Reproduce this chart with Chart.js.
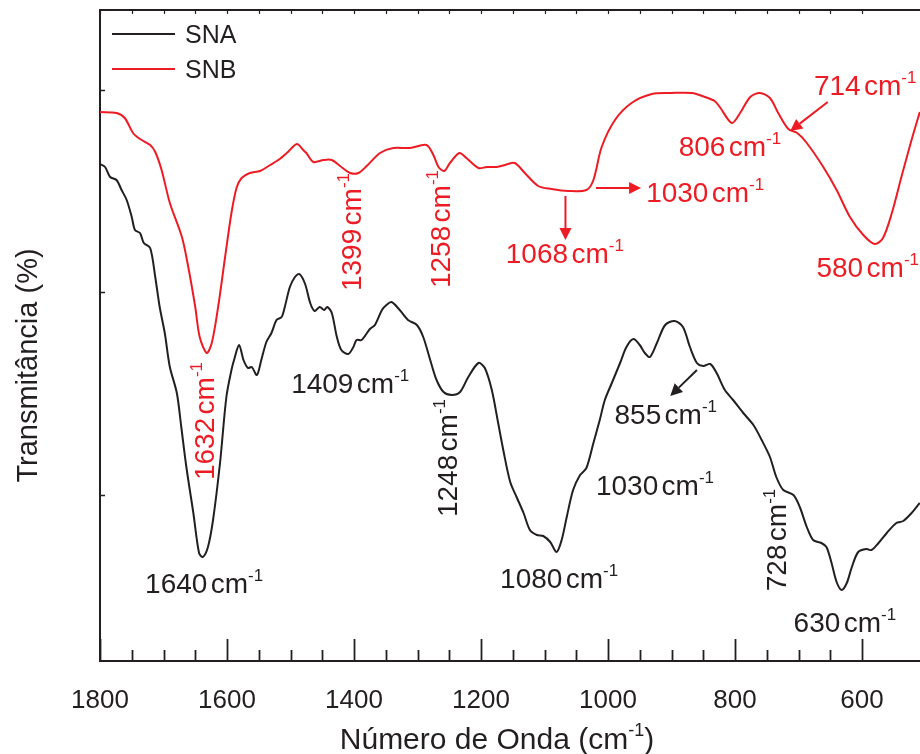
<!DOCTYPE html>
<html>
<head>
<meta charset="utf-8">
<script src="https://cdn.jsdelivr.net/npm/chart.js@4.4.0/dist/chart.umd.min.js"></script>
<style>
  html, body { margin: 0; padding: 0; background: #fff; }
</style>
</head>
<body>
<canvas id="ftir" width="920" height="754"></canvas>
<script>
// espectros FTIR das amostras SNA e SNB
const snaWavenumber = [1800, 1792, 1784, 1774, 1766, 1758, 1750, 1745, 1737, 1731,
  1721, 1713, 1706, 1698, 1690, 1679, 1672, 1664, 1653, 1644,
  1638, 1630, 1622, 1611, 1601, 1593, 1588, 1581, 1574, 1567,
  1561, 1553, 1546, 1538, 1530, 1522, 1514, 1509, 1501, 1493,
  1486, 1477, 1469, 1462, 1454, 1447, 1442, 1435, 1427, 1420,
  1409, 1401, 1396, 1388, 1375, 1367, 1356, 1349, 1341, 1328,
  1315, 1301, 1291, 1280, 1270, 1259, 1246, 1233, 1220, 1204,
  1194, 1183, 1173, 1164, 1154, 1144, 1133, 1123, 1112, 1102,
  1091, 1081, 1073, 1065, 1055, 1044, 1034, 1023, 1013, 1005,
  994, 981, 971, 960, 950, 942, 934, 923, 910, 895,
  882, 871, 860, 850, 839, 829, 816, 803, 787, 771,
  758, 745, 735, 724, 708, 698, 687, 677, 664, 656,
  648, 640, 632, 624, 616, 606, 593, 585, 574, 561,
  546, 535, 522, 509];
const snaT = [53.1, 52.8, 51.8, 51.5, 50.5, 49.5, 47.8, 46.5, 46.2, 45.2,
  44.7, 41.8, 38.8, 36.2, 32.8, 30.2, 26.8, 22.8, 18.2, 14.2,
  13.8, 14.8, 17.5, 23.2, 29.8, 32.5, 33.7, 35.0, 33.5, 32.7,
  32.8, 32.0, 33.5, 35.3, 36.2, 37.5, 37.8, 38.8, 40.8, 41.8,
  42.1, 41.1, 39.2, 38.4, 38.8, 38.5, 38.8, 38.2, 35.8, 34.5,
  34.1, 34.8, 35.5, 35.5, 36.6, 37.0, 38.5, 39.0, 39.3, 38.5,
  37.5, 37.0, 35.8, 33.5, 31.5, 30.3, 30.0, 30.3, 31.8, 33.2,
  32.7, 30.5, 27.2, 24.2, 21.3, 19.8, 18.2, 16.5, 16.0, 15.9,
  15.3, 14.3, 15.5, 17.8, 20.5, 22.0, 22.7, 25.2, 27.5, 29.5,
  31.2, 33.2, 34.8, 35.6, 35.0, 34.2, 33.8, 35.2, 37.0, 37.4,
  36.8, 34.8, 33.2, 32.9, 33.1, 32.2, 30.5, 29.5, 28.2, 27.0,
  25.5, 23.8, 21.8, 20.5, 20.0, 18.8, 16.8, 15.5, 15.2, 14.8,
  13.2, 11.3, 10.5, 11.2, 12.8, 14.3, 14.6, 14.5, 15.2, 16.2,
  17.2, 17.4, 18.2, 19.2];

const snbWavenumber = [1800, 1774, 1761, 1748, 1737, 1721, 1713, 1703, 1690, 1671,
  1661, 1650, 1643, 1632, 1624, 1614, 1603, 1593, 1585, 1577,
  1564, 1548, 1532, 1517, 1504, 1490, 1480, 1475, 1464, 1448,
  1435, 1422, 1406, 1393, 1380, 1359, 1338, 1312, 1286, 1275,
  1267, 1258, 1249, 1234, 1223, 1204, 1191, 1175, 1162, 1147,
  1131, 1110, 1089, 1063, 1034, 1023, 1010, 989, 963, 931,
  900, 868, 847, 832, 824, 805, 792, 776, 761, 745,
  732, 716, 702, 687, 661, 640, 619, 598, 580, 567,
  553, 538, 522, 509];
const snbT = [58.3, 58.2, 57.7, 56.2, 55.6, 55.0, 54.3, 52.5, 49.2, 45.8,
  42.8, 38.8, 35.8, 34.2, 35.2, 38.8, 43.8, 48.2, 50.7, 51.7,
  52.2, 52.4, 53.0, 53.6, 54.3, 55.1, 54.5, 54.2, 53.3, 53.5,
  53.5, 52.9, 52.2, 52.2, 52.9, 54.2, 54.7, 54.7, 55.0, 54.0,
  52.8, 52.4, 53.2, 54.2, 53.7, 52.7, 52.8, 52.8, 53.0, 53.2,
  52.2, 50.9, 50.6, 50.4, 50.5, 51.5, 54.8, 57.5, 59.2, 60.1,
  60.2, 60.2, 59.8, 59.4, 58.8, 57.2, 58.2, 59.8, 60.2, 59.7,
  58.2, 56.6, 56.2, 55.2, 52.8, 50.5, 47.8, 46.0, 45.1, 45.7,
  48.2, 51.8, 55.5, 58.3];

// marcas do eixo y (sem rótulo)
const transTicks = [20, 40.25, 60.5];

// bandas marcadas: número, posição do texto (cm-1, T), cor, vertical?
const bandLabels = [
  { num: '1640', wn: 1636, t: 11.2, color: 'k' },
  { num: '1409', wn: 1406, t: 31.2, color: 'k' },
  { num: '1248', wn: 1254, t: 23.7, color: 'k', vertical: true },
  { num: '1080', wn: 1077, t: 11.7, color: 'k' },
  { num: '1030', wn: 926, t: 21.0, color: 'k' },
  { num: '855', wn: 909, t: 28.1, color: 'k' },
  { num: '728', wn: 735, t: 15.5, color: 'k', vertical: true },
  { num: '630', wn: 627, t: 7.3, color: 'k' },
  { num: '1632', wn: 1636, t: 27.4, color: 'r', vertical: true },
  { num: '1399', wn: 1405, t: 46.3, color: 'r', vertical: true },
  { num: '1258', wn: 1265, t: 46.6, color: 'r', vertical: true },
  { num: '1068', wn: 1068, t: 44.2, color: 'r' },
  { num: '1030', wn: 847, t: 50.3, color: 'r' },
  { num: '806', wn: 808, t: 54.9, color: 'r' },
  { num: '714', wn: 595, t: 61.0, color: 'r' },
  { num: '580', wn: 591, t: 42.8, color: 'r' }
];

// setas: de (cm-1, T) para (cm-1, T)
const bandArrows = [
  { from: [1067, 49.9], to: [1067, 45.5], color: 'r' },
  { from: [1019, 50.7], to: [948, 50.7], color: 'r' },
  { from: [654, 59.3], to: [713, 56.4], color: 'r' },
  { from: [860, 32.5], to: [902, 29.9], color: 'k' }
];

const FONT = '"Liberation Sans", Arial, Helvetica, sans-serif';
const INK = '#231f20';
const RED = '#ed1c24';
const colorOf = c => (c === 'r' ? RED : INK);

// texto com expoente: partes [{t, sup, gap}]
function drawRich(ctx, parts, cx, cy, size, color, vertical) {
  ctx.save();
  ctx.translate(cx, cy);
  if (vertical) ctx.rotate(-Math.PI / 2);
  ctx.fillStyle = color;
  ctx.textAlign = 'left';
  ctx.textBaseline = 'alphabetic';
  const big = size + 'px ' + FONT;
  const small = Math.round(size * 0.6) + 'px ' + FONT;
  let total = 0;
  const widths = parts.map(p => {
    ctx.font = p.sup ? small : big;
    const w = ctx.measureText(p.t).width + (p.gap || 0) * size;
    total += w;
    return w;
  });
  let x = -total / 2;
  const base = size * 0.36;
  parts.forEach((p, i) => {
    ctx.font = p.sup ? small : big;
    x += (p.gap || 0) * size;
    ctx.fillText(p.t, x, p.sup ? base - size * 0.42 : base);
    x += widths[i] - (p.gap || 0) * size;
  });
  ctx.restore();
}

function drawArrow(ctx, x1, y1, x2, y2, color) {
  const ang = Math.atan2(y2 - y1, x2 - x1);
  const head = 12, half = 6;
  ctx.save();
  ctx.strokeStyle = color;
  ctx.fillStyle = color;
  ctx.lineWidth = 2;
  ctx.beginPath();
  ctx.moveTo(x1, y1);
  ctx.lineTo(x2 - head * Math.cos(ang), y2 - head * Math.sin(ang));
  ctx.stroke();
  ctx.beginPath();
  ctx.moveTo(x2, y2);
  ctx.lineTo(x2 - head * Math.cos(ang) + half * Math.sin(ang), y2 - head * Math.sin(ang) - half * Math.cos(ang));
  ctx.lineTo(x2 - head * Math.cos(ang) - half * Math.sin(ang), y2 - head * Math.sin(ang) + half * Math.cos(ang));
  ctx.closePath();
  ctx.fill();
  ctx.restore();
}

const spectrumDecor = {
  id: 'spectrumDecor',
  afterDraw(chart) {
    const { ctx, chartArea: { left, right, top, bottom }, scales: { x, y } } = chart;
    ctx.save();
    ctx.strokeStyle = INK;

    // linha superior
    ctx.lineWidth = 2;
    ctx.beginPath();
    ctx.moveTo(left, top);
    ctx.lineTo(right, top);
    ctx.stroke();

    // marcas do eixo x (para dentro), em cima e embaixo
    x.ticks.forEach(tk => {
      const v = tk.value;
      if (v % 50 !== 0) return;
      const px = Math.round(x.getPixelForValue(v)) + 0.5;
      const len = v % 200 === 0 ? 22 : 11;
      ctx.lineWidth = 1.8;
      ctx.beginPath();
      ctx.moveTo(px, bottom);
      ctx.lineTo(px, bottom - len);
      ctx.stroke();
      ctx.lineWidth = 1.2;
      ctx.beginPath();
      ctx.moveTo(px, top);
      ctx.lineTo(px, top + 4);
      ctx.stroke();
    });

    // marcas do eixo y
    ctx.lineWidth = 1.5;
    transTicks.forEach(v => {
      const py = Math.round(y.getPixelForValue(v)) + 0.5;
      ctx.beginPath();
      ctx.moveTo(left, py);
      ctx.lineTo(left + 5, py);
      ctx.stroke();
    });

    // legenda
    chart.data.datasets.forEach((ds, i) => {
      const ly = 34 + i * 35;
      ctx.strokeStyle = ds.borderColor;
      ctx.lineWidth = 2;
      ctx.beginPath();
      ctx.moveTo(112, ly);
      ctx.lineTo(175, ly);
      ctx.stroke();
      ctx.fillStyle = INK;
      ctx.font = '25px ' + FONT;
      ctx.textAlign = 'left';
      ctx.textBaseline = 'middle';
      ctx.fillText(ds.label, 185, ly + 2);
    });

    // setas e rótulos das bandas
    bandArrows.forEach(a => {
      drawArrow(ctx, x.getPixelForValue(a.from[0]), y.getPixelForValue(a.from[1]),
        x.getPixelForValue(a.to[0]), y.getPixelForValue(a.to[1]), colorOf(a.color));
    });
    bandLabels.forEach(b => {
      drawRich(ctx, [{ t: b.num }, { t: 'cm', gap: 0.12 }, { t: '-1', sup: true }],
        x.getPixelForValue(b.wn), y.getPixelForValue(b.t), 28, colorOf(b.color), b.vertical);
    });

    // títulos dos eixos
    drawRich(ctx, [{ t: 'Número de Onda (cm' }, { t: '-1', sup: true }, { t: ')' }],
      (left + right) / 2 - 13, 738, 30, INK, false);
    ctx.save();
    ctx.translate(29, (top + bottom) / 2 + 30);
    ctx.rotate(-Math.PI / 2);
    ctx.fillStyle = INK;
    ctx.font = '29px ' + FONT;
    ctx.textAlign = 'center';
    ctx.textBaseline = 'middle';
    ctx.fillText('Transmitância (%)', 0, 0);
    ctx.restore();

    ctx.restore();
  }
};

const toPoints = (xs, ys) => xs.map((v, i) => ({ x: v, y: ys[i] }));

new Chart(document.getElementById('ftir'), {
  type: 'line',
  data: {
    datasets: [
      { label: 'SNA', data: toPoints(snaWavenumber, snaT), borderColor: INK, borderWidth: 2,
        pointRadius: 0, tension: 0.3, fill: false },
      { label: 'SNB', data: toPoints(snbWavenumber, snbT), borderColor: RED, borderWidth: 2,
        pointRadius: 0, tension: 0.3, fill: false }
    ]
  },
  options: {
    responsive: false,
    animation: false,
    events: [],
    layout: { padding: { top: 10, right: 0, left: 0, bottom: 0 } },
    plugins: { legend: { display: false }, tooltip: { enabled: false } },
    scales: {
      x: {
        type: 'linear',
        reverse: true,
        min: 508.7,
        max: 1800,
        afterFit(scale) {
          scale.height = 93;
          scale.paddingLeft = 0;
          scale.paddingRight = 0;
        },
        grid: { display: false, drawTicks: false },
        border: { display: true, color: INK, width: 2 },
        ticks: {
          stepSize: 50,
          autoSkip: false,
          maxRotation: 0,
          padding: 24,
          color: INK,
          font: { family: FONT, size: 26 },
          callback: v => (v % 200 === 0 ? String(v) : '')
        }
      },
      y: {
        min: 3.4,
        max: 68.5,
        afterFit(scale) { scale.width = 100; },
        grid: { display: false, drawTicks: false },
        border: { display: true, color: INK, width: 2 },
        ticks: { display: false }
      }
    }
  },
  plugins: [spectrumDecor]
});
</script>
</body>
</html>
